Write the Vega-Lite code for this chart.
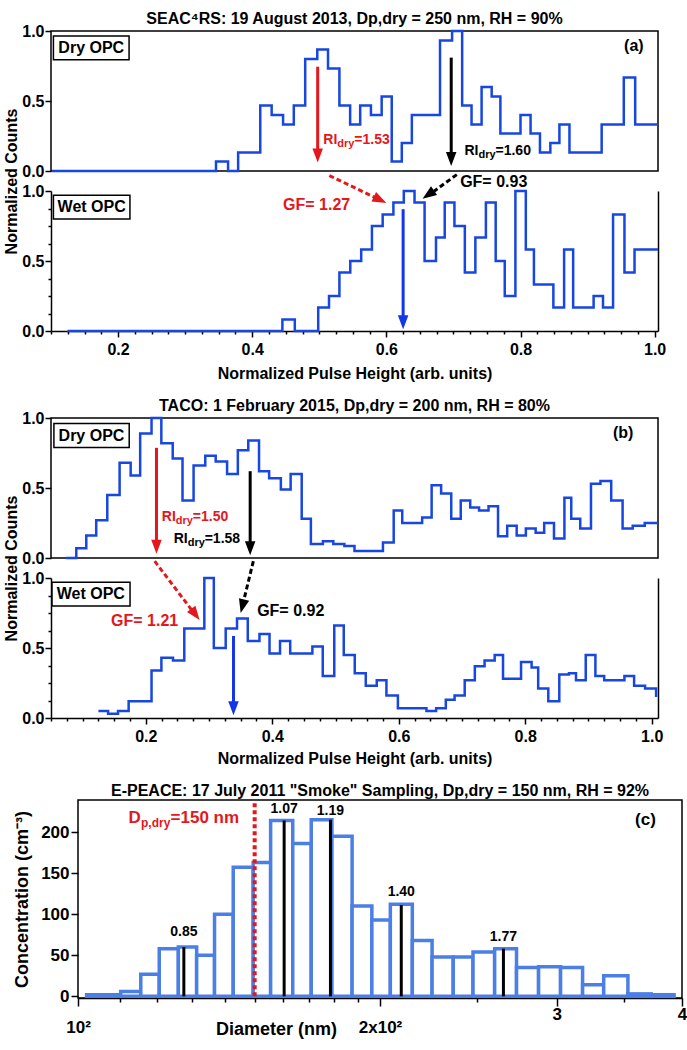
{
  "$schema": "https://vega.github.io/schema/vega-lite/v6.json",
  "padding": {"left": 2, "top": 10, "right": 0, "bottom": 0},
  "spacing": 16,
  "config": {
    "font": "Liberation Sans",
    "view": {"stroke": "black", "strokeWidth": 1.5},
    "title": {"font": "Liberation Sans", "fontSize": 16, "fontWeight": "bold", "color": "black"},
    "axis": {"labelFont": "Liberation Sans", "titleFont": "Liberation Sans", "labelFontSize": 16, "labelFontWeight": "bold", "labelColor": "black", "titleFontSize": 16, "titleFontWeight": "bold", "titleColor": "black", "domainColor": "black", "domainWidth": 1.5, "tickColor": "black", "tickWidth": 1.5, "grid": false, "labelFlush": false, "labelOverlap": false, "labelBound": false},
    "text": {"font": "Liberation Sans"}
  },
  "datasets": {
    "dryA": [{"x":0.1016,"y":0},{"x":0.346,"y":0.067},{"x":0.364,"y":0},{"x":0.379,"y":0.133},{"x":0.412,"y":0.467},{"x":0.429,"y":0.4},{"x":0.446,"y":0.333},{"x":0.462,"y":0.467},{"x":0.479,"y":0.8},{"x":0.497,"y":0.867},{"x":0.513,"y":0.733},{"x":0.53,"y":0.467},{"x":0.546,"y":0.333},{"x":0.561,"y":0.467},{"x":0.577,"y":0.4},{"x":0.593,"y":0.533},{"x":0.608,"y":0.067},{"x":0.623,"y":0.2},{"x":0.638,"y":0.4},{"x":0.68,"y":0.933},{"x":0.698,"y":1},{"x":0.713,"y":0.467},{"x":0.727,"y":0.333},{"x":0.742,"y":0.6},{"x":0.757,"y":0.533},{"x":0.77,"y":0.267},{"x":0.8,"y":0.4},{"x":0.815,"y":0.267},{"x":0.829,"y":0.133},{"x":0.8445,"y":0.2},{"x":0.858,"y":0.333},{"x":0.873,"y":0.133},{"x":0.921,"y":0.333},{"x":0.954,"y":0.667},{"x":0.971,"y":0.333},{"x":1.005,"y":0.333}],
    "wetA": [{"x":0.1246,"y":0},{"x":0.445,"y":0.083},{"x":0.4635,"y":0},{"x":0.4984,"y":0.167},{"x":0.5145,"y":0.25},{"x":0.53,"y":0.417},{"x":0.5462,"y":0.5},{"x":0.5625,"y":0.583},{"x":0.5785,"y":0.75},{"x":0.5945,"y":0.833},{"x":0.6105,"y":0.917},{"x":0.626,"y":1},{"x":0.642,"y":0.917},{"x":0.657,"y":0.5},{"x":0.674,"y":0.667},{"x":0.687,"y":0.917},{"x":0.7015,"y":0.75},{"x":0.717,"y":0.417},{"x":0.7327,"y":0.667},{"x":0.7484,"y":0.917},{"x":0.763,"y":0.5},{"x":0.7765,"y":0.25},{"x":0.7924,"y":1},{"x":0.8079,"y":0.583},{"x":0.82,"y":0.333},{"x":0.849,"y":0.167},{"x":0.865,"y":0.583},{"x":0.8785,"y":0.167},{"x":0.909,"y":0.25},{"x":0.923,"y":0.167},{"x":0.938,"y":0.833},{"x":0.955,"y":0.417},{"x":0.97,"y":0.583},{"x":1.005,"y":0.583}],
    "dryB": [{"x":0.0737,"y":0},{"x":0.09,"y":0.07},{"x":0.1058,"y":0.16},{"x":0.1215,"y":0.27},{"x":0.139,"y":0.45},{"x":0.1585,"y":0.68},{"x":0.176,"y":0.59},{"x":0.191,"y":0.89},{"x":0.209,"y":1},{"x":0.2245,"y":0.82},{"x":0.2425,"y":0.71},{"x":0.258,"y":0.41},{"x":0.2755,"y":0.66},{"x":0.294,"y":0.73},{"x":0.3105,"y":0.69},{"x":0.3285,"y":0.6},{"x":0.3455,"y":0.77},{"x":0.362,"y":0.84},{"x":0.379,"y":0.62},{"x":0.395,"y":0.57},{"x":0.4135,"y":0.49},{"x":0.429,"y":0.6},{"x":0.4465,"y":0.28},{"x":0.461,"y":0.1},{"x":0.48,"y":0.12},{"x":0.4965,"y":0.1},{"x":0.514,"y":0.085},{"x":0.53,"y":0.05},{"x":0.575,"y":0.11},{"x":0.592,"y":0.34},{"x":0.6055,"y":0.25},{"x":0.637,"y":0.29},{"x":0.652,"y":0.52},{"x":0.667,"y":0.46},{"x":0.683,"y":0.28},{"x":0.698,"y":0.41},{"x":0.713,"y":0.36},{"x":0.727,"y":0.34},{"x":0.742,"y":0.37},{"x":0.757,"y":0.155},{"x":0.7715,"y":0.23},{"x":0.7865,"y":0.16},{"x":0.801,"y":0.21},{"x":0.8165,"y":0.18},{"x":0.83,"y":0.25},{"x":0.8455,"y":0.14},{"x":0.862,"y":0.43},{"x":0.8728,"y":0.28},{"x":0.887,"y":0.21},{"x":0.904,"y":0.53},{"x":0.919,"y":0.55},{"x":0.936,"y":0.41},{"x":0.954,"y":0.21},{"x":0.97,"y":0.23},{"x":0.989,"y":0.25},{"x":1.01,"y":0.25}],
    "wetB": [{"x":0.125,"y":0.05},{"x":0.1403,"y":0.03},{"x":0.156,"y":0.05},{"x":0.1728,"y":0.12},{"x":0.209,"y":0.34},{"x":0.2246,"y":0.43},{"x":0.243,"y":0.41},{"x":0.2608,"y":0.64},{"x":0.2925,"y":1},{"x":0.3075,"y":0.5},{"x":0.3263,"y":0.64},{"x":0.3442,"y":0.71},{"x":0.3612,"y":0.55},{"x":0.3797,"y":0.6},{"x":0.3956,"y":0.46},{"x":0.4122,"y":0.55},{"x":0.4283,"y":0.46},{"x":0.4634,"y":0.51},{"x":0.4798,"y":0.3},{"x":0.498,"y":0.66},{"x":0.513,"y":0.45},{"x":0.5304,"y":0.32},{"x":0.5478,"y":0.23},{"x":0.5652,"y":0.27},{"x":0.5805,"y":0.16},{"x":0.5986,"y":0.07},{"x":0.6438,"y":0.05},{"x":0.6591,"y":0.07},{"x":0.6744,"y":0.13},{"x":0.6883,"y":0.16},{"x":0.7043,"y":0.27},{"x":0.7203,"y":0.37},{"x":0.7357,"y":0.41},{"x":0.7517,"y":0.45},{"x":0.7649,"y":0.28},{"x":0.7934,"y":0.4},{"x":0.8101,"y":0.36},{"x":0.8205,"y":0.21},{"x":0.8365,"y":0.12},{"x":0.8539,"y":0.31},{"x":0.8692,"y":0.32},{"x":0.8803,"y":0.27},{"x":0.8957,"y":0.45},{"x":0.911,"y":0.3},{"x":0.9249,"y":0.27},{"x":0.9569,"y":0.3},{"x":0.9722,"y":0.23},{"x":0.9896,"y":0.21},{"x":1.007,"y":0.15}],
    "arrows": [{"p":"dryA","k":"low","x":0.4976,"ytop":0.745,"yend":0.13,"ytip":0.06},{"p":"dryA","k":"high","x":0.6967,"ytop":0.81,"yend":0.1,"ytip":0.035},{"p":"wetA","k":"wet","x":0.625,"ytop":0.87,"yend":0.08,"ytip":0.012},{"p":"dryB","k":"low","x":0.2168,"ytop":0.787,"yend":0.1,"ytip":0.03},{"p":"dryB","k":"high","x":0.365,"ytop":0.62,"yend":0.09,"ytip":0.02},{"p":"wetB","k":"wet","x":0.3386,"ytop":0.586,"yend":0.09,"ytip":0.019}],
    "dashes": [{"p":"wetA","k":"low","x1":0.515,"y1":1.11,"x2":0.589,"y2":0.94,"xt":0.6,"yt":0.915,"ang":-64},{"p":"wetA","k":"high","x1":0.705,"y1":1.117,"x2":0.664,"y2":0.973,"xt":0.654,"yt":0.945,"ang":55},{"p":"wetB","k":"low","x1":0.214,"y1":1.12,"x2":0.277,"y2":0.745,"xt":0.285,"yt":0.7,"ang":-37},{"p":"wetB","k":"high","x1":0.37,"y1":1.12,"x2":0.353,"y2":0.806,"xt":0.35,"yt":0.75,"ang":14}],
    "gf": [{"p":"wetA","k":"low","x":0.446,"y":0.9,"t":"GF= 1.27"},{"p":"wetA","k":"high","x":0.71,"y":1.065,"t":"GF= 0.93"},{"p":"wetB","k":"low","x":0.145,"y":0.69,"t":"GF= 1.21"},{"p":"wetB","k":"high","x":0.376,"y":0.764,"t":"GF= 0.92"}],
    "ri": [{"p":"dryA","k":"low","x":0.506,"y":0.224,"v":"=1.53"},{"p":"dryA","k":"high","x":0.7165,"y":0.146,"v":"=1.60"},{"p":"dryB","k":"low","x":0.2252,"y":0.29,"v":"=1.50"},{"p":"dryB","k":"high","x":0.244,"y":0.133,"v":"=1.58"}],
    "boxes": [{"p":"dryA","x1":0.1036,"x2":0.2164,"y1":0.795,"y2":0.965,"cx":0.16,"cy":0.88,"t":"Dry OPC"},{"p":"wetA","x1":0.1036,"x2":0.2177,"y1":0.8,"y2":0.97,"cx":0.1606,"cy":0.885,"t":"Wet OPC"},{"p":"dryB","x1":0.0546,"x2":0.1737,"y1":0.79,"y2":0.96,"cx":0.114,"cy":0.875,"t":"Dry OPC"},{"p":"wetB","x1":0.0516,"x2":0.175,"y1":0.8,"y2":0.97,"cx":0.113,"cy":0.885,"t":"Wet OPC"}],
    "tags": [{"p":"dryA","x":0.969,"y":0.89,"t":"(a)"},{"p":"dryB","x":0.955,"y":0.89,"t":"(b)"},{"p":"c","x":367.8,"y":215,"t":"(c)"}],
    "bars": [{"lo":102,"hi":110.3,"n":2},{"lo":110.3,"hi":115.5,"n":6},{"lo":115.5,"hi":120.5,"n":27},{"lo":120.5,"hi":125.9,"n":58},{"lo":125.9,"hi":131.3,"n":60},{"lo":131.3,"hi":136.8,"n":50},{"lo":136.8,"hi":142.8,"n":100},{"lo":142.8,"hi":149.5,"n":157},{"lo":149.5,"hi":155.6,"n":163},{"lo":155.6,"hi":163.7,"n":214},{"lo":163.7,"hi":170.8,"n":186},{"lo":170.8,"hi":179.1,"n":215},{"lo":179.1,"hi":187.6,"n":195},{"lo":187.6,"hi":196.3,"n":110},{"lo":196.3,"hi":204.8,"n":93},{"lo":204.8,"hi":215.4,"n":112},{"lo":215.4,"hi":225.4,"n":68},{"lo":225.4,"hi":236.6,"n":48},{"lo":236.6,"hi":247.6,"n":48},{"lo":247.6,"hi":260.2,"n":54},{"lo":260.2,"hi":273.6,"n":58},{"lo":273.6,"hi":287.8,"n":35},{"lo":287.8,"hi":302.7,"n":36},{"lo":302.7,"hi":318.4,"n":35},{"lo":318.4,"hi":334.2,"n":14},{"lo":334.2,"hi":353.3,"n":25},{"lo":353.3,"hi":372.7,"n":3},{"lo":372.7,"hi":392.8,"n":2}],
    "gfc": [{"d":127.5,"h":60,"ty":78,"t":"0.85"},{"d":160.5,"h":214,"ty":228,"t":"1.07"},{"d":178.5,"h":215,"ty":226,"t":"1.19"},{"d":210,"h":111,"ty":127,"t":"1.40"},{"d":265.5,"h":58,"ty":72,"t":"1.77"}],
    "dp": [{"d":150,"y0":0,"y1":239,"lx":112.3,"ly":217}]
  },
  "vconcat": [
    {
      "vconcat": [
        {
          "width": 607, "height": 140,
          "title": {"text": "SEAC⁴RS: 19 August 2013, Dp,dry = 250 nm, RH = 90%", "offset": -4},
          "layer": [
            {"data": {"name": "dryA"}, "mark": {"type": "line", "interpolate": "step-after", "color": "#1846e0", "strokeWidth": 2.5},
             "encoding": {
               "x": {"field": "x", "type": "quantitative", "scale": {"domain": [0.1, 1.005], "nice": false, "zero": false}, "axis": {"labels": false, "ticks": false, "domain": false, "title": null}},
               "y": {"field": "y", "type": "quantitative", "scale": {"domain": [0, 1], "nice": false}, "axis": {"values": [0,0.125,0.25,0.375,0.5,0.625,0.75,0.875,1], "labelExpr": "datum.value % 0.5 == 0 ? format(datum.value, '.1f') : ''", "tickSize": {"condition": {"test": "datum.value % 0.5 == 0", "value": 6}, "value": 3}, "labelPadding": 1, "domain": false, "title": "Normalized Counts", "titleX": -32, "titleY": 150, "titleAlign": "center", "titleBaseline": "bottom", "titleAngle": -90}}
             }},
            {"data": {"name": "boxes"}, "transform": [{"filter": "datum.p == 'dryA'"}], "mark": {"type": "rect", "fill": "white", "stroke": "black", "strokeWidth": 1.5},
             "encoding": {"x": {"field": "x1", "type": "quantitative"}, "x2": {"field": "x2"}, "y": {"field": "y1", "type": "quantitative"}, "y2": {"field": "y2"}}},
            {"data": {"name": "boxes"}, "transform": [{"filter": "datum.p == 'dryA'"}], "mark": {"type": "text", "fontSize": 16, "fontWeight": "bold", "baseline": "middle", "align": "center"},
             "encoding": {"x": {"field": "cx", "type": "quantitative"}, "y": {"field": "cy", "type": "quantitative"}, "text": {"field": "t"}}},
            {"data": {"name": "arrows"}, "transform": [{"filter": "datum.p == 'dryA'"}], "mark": {"type": "rule", "strokeWidth": 3},
             "encoding": {"x": {"field": "x", "type": "quantitative"}, "y": {"field": "ytop", "type": "quantitative"}, "y2": {"field": "yend"}, "color": {"field": "k", "type": "nominal", "scale": {"domain": ["low", "high", "wet"], "range": ["#e3171c", "#000000", "#1236e8"]}, "legend": null}}},
            {"data": {"name": "arrows"}, "transform": [{"filter": "datum.p == 'dryA'"}], "mark": {"type": "point", "shape": "M-0.75,-2L0.75,-2L0,0Z", "filled": true, "size": 196, "opacity": 1, "strokeWidth": 0},
             "encoding": {"x": {"field": "x", "type": "quantitative"}, "y": {"field": "ytip", "type": "quantitative"}, "color": {"field": "k", "type": "nominal", "scale": {"domain": ["low", "high", "wet"], "range": ["#e3171c", "#000000", "#1236e8"]}, "legend": null}}},
            {"data": {"name": "ri"}, "transform": [{"filter": "datum.p == 'dryA'"}], "mark": {"type": "text", "text": "RI", "align": "left", "baseline": "middle", "fontSize": 14, "fontWeight": "bold"},
             "encoding": {"x": {"field": "x", "type": "quantitative"}, "y": {"field": "y", "type": "quantitative"}, "color": {"field": "k", "type": "nominal", "scale": {"domain": ["low", "high", "wet"], "range": ["#e3171c", "#000000", "#1236e8"]}, "legend": null}}},
            {"data": {"name": "ri"}, "transform": [{"filter": "datum.p == 'dryA'"}], "mark": {"type": "text", "text": "dry", "align": "left", "baseline": "middle", "fontSize": 11, "fontWeight": "bold", "dx": 14, "dy": 4},
             "encoding": {"x": {"field": "x", "type": "quantitative"}, "y": {"field": "y", "type": "quantitative"}, "color": {"field": "k", "type": "nominal", "scale": {"domain": ["low", "high", "wet"], "range": ["#e3171c", "#000000", "#1236e8"]}, "legend": null}}},
            {"data": {"name": "ri"}, "transform": [{"filter": "datum.p == 'dryA'"}], "mark": {"type": "text", "align": "left", "baseline": "middle", "fontSize": 14, "fontWeight": "bold", "dx": 31},
             "encoding": {"x": {"field": "x", "type": "quantitative"}, "y": {"field": "y", "type": "quantitative"}, "text": {"field": "v"}, "color": {"field": "k", "type": "nominal", "scale": {"domain": ["low", "high", "wet"], "range": ["#e3171c", "#000000", "#1236e8"]}, "legend": null}}},
            {"data": {"name": "tags"}, "transform": [{"filter": "datum.p == 'dryA'"}], "mark": {"type": "text", "align": "center", "baseline": "middle", "fontSize": 16, "fontWeight": "bold"},
             "encoding": {"x": {"field": "x", "type": "quantitative"}, "y": {"field": "y", "type": "quantitative"}, "text": {"field": "t"}}}
          ]
        },
        {
          "width": 607, "height": 140,
          "view": {"stroke": null},
          "resolve": {"axis": {"x": "independent", "y": "independent"}},
          "layer": [
            {"data": {"name": "wetA"}, "mark": {"type": "line", "interpolate": "step-after", "color": "#1846e0", "strokeWidth": 2.5},
             "encoding": {
               "x": {"field": "x", "type": "quantitative", "scale": {"domain": [0.1, 1.005], "nice": false, "zero": false}, "axis": {"orient": "bottom", "values": [0.2, 0.4, 0.6, 0.8, 1.0], "format": ".1f", "tickSize": 6, "labelPadding": 4, "title": "Normalized Pulse Height (arb. units)", "titlePadding": 8}},
               "y": {"field": "y", "type": "quantitative", "scale": {"domain": [0, 1], "nice": false}, "axis": {"values": [0,0.125,0.25,0.375,0.5,0.625,0.75,0.875,1], "labelExpr": "datum.value % 0.5 == 0 ? format(datum.value, '.1f') : ''", "tickSize": {"condition": {"test": "datum.value % 0.5 == 0", "value": 6}, "value": 3}, "labelPadding": 1, "title": null}}
             }},
            {"data": {"name": "boxes"}, "transform": [{"filter": "datum.p == 'wetA'"}], "mark": {"type": "rect", "fill": "white", "stroke": "black", "strokeWidth": 1.5},
             "encoding": {"x": {"field": "x1", "type": "quantitative", "axis": {"orient": "bottom", "values": [0.1,0.125,0.15,0.175,0.225,0.25,0.275,0.3,0.325,0.35,0.375,0.425,0.45,0.475,0.5,0.525,0.55,0.575,0.625,0.65,0.675,0.7,0.725,0.75,0.775,0.825,0.85,0.875,0.9,0.925,0.95,0.975], "labels": false, "tickSize": 3, "domain": false, "title": null}}, "x2": {"field": "x2"}, "y": {"field": "y1", "type": "quantitative", "axis": {"orient": "right", "labels": false, "ticks": false, "title": null, "domain": true}}, "y2": {"field": "y2"}}},
            {"data": {"name": "boxes"}, "transform": [{"filter": "datum.p == 'wetA'"}], "mark": {"type": "text", "fontSize": 16, "fontWeight": "bold", "baseline": "middle", "align": "center"},
             "encoding": {"x": {"field": "cx", "type": "quantitative", "axis": null}, "y": {"field": "cy", "type": "quantitative", "axis": null}, "text": {"field": "t"}}},
            {"data": {"name": "arrows"}, "transform": [{"filter": "datum.p == 'wetA'"}], "mark": {"type": "rule", "strokeWidth": 3},
             "encoding": {"x": {"field": "x", "type": "quantitative", "axis": null}, "y": {"field": "ytop", "type": "quantitative", "axis": null}, "y2": {"field": "yend"}, "color": {"field": "k", "type": "nominal", "scale": {"domain": ["low", "high", "wet"], "range": ["#e3171c", "#000000", "#1236e8"]}, "legend": null}}},
            {"data": {"name": "arrows"}, "transform": [{"filter": "datum.p == 'wetA'"}], "mark": {"type": "point", "shape": "M-0.75,-2L0.75,-2L0,0Z", "filled": true, "size": 196, "opacity": 1, "strokeWidth": 0},
             "encoding": {"x": {"field": "x", "type": "quantitative", "axis": null}, "y": {"field": "ytip", "type": "quantitative", "axis": null}, "color": {"field": "k", "type": "nominal", "scale": {"domain": ["low", "high", "wet"], "range": ["#e3171c", "#000000", "#1236e8"]}, "legend": null}}},
            {"data": {"name": "dashes"}, "transform": [{"filter": "datum.p == 'wetA'"}], "mark": {"type": "rule", "strokeWidth": 3, "strokeDash": [5, 3]},
             "encoding": {"x": {"field": "x1", "type": "quantitative", "axis": null}, "y": {"field": "y1", "type": "quantitative", "axis": null}, "x2": {"field": "x2"}, "y2": {"field": "y2"}, "color": {"field": "k", "type": "nominal", "scale": {"domain": ["low", "high", "wet"], "range": ["#e3171c", "#000000", "#1236e8"]}, "legend": null}}},
            {"data": {"name": "dashes"}, "transform": [{"filter": "datum.p == 'wetA'"}], "mark": {"type": "point", "shape": "M-0.75,-2L0.75,-2L0,0Z", "filled": true, "size": 196, "opacity": 1, "strokeWidth": 0},
             "encoding": {"x": {"field": "xt", "type": "quantitative", "axis": null}, "y": {"field": "yt", "type": "quantitative", "axis": null}, "angle": {"field": "ang", "type": "quantitative", "scale": null}, "color": {"field": "k", "type": "nominal", "scale": {"domain": ["low", "high", "wet"], "range": ["#e3171c", "#000000", "#1236e8"]}, "legend": null}}},
            {"data": {"name": "gf"}, "transform": [{"filter": "datum.p == 'wetA'"}], "mark": {"type": "text", "align": "left", "baseline": "middle", "fontSize": 16, "fontWeight": "bold"},
             "encoding": {"x": {"field": "x", "type": "quantitative", "axis": null}, "y": {"field": "y", "type": "quantitative", "axis": null}, "text": {"field": "t"}, "color": {"field": "k", "type": "nominal", "scale": {"domain": ["low", "high", "wet"], "range": ["#e3171c", "#000000", "#1236e8"]}, "legend": null}}}
          ]
        }
      ],
      "bounds": "flush",
      "spacing": 20
    },
    {
      "vconcat": [
        {
          "width": 607, "height": 140,
          "title": {"text": "TACO: 1 February 2015, Dp,dry = 200 nm, RH = 80%", "offset": -4},
          "layer": [
            {"data": {"name": "dryB"}, "mark": {"type": "line", "interpolate": "step-after", "color": "#1846e0", "strokeWidth": 2.5},
             "encoding": {
               "x": {"field": "x", "type": "quantitative", "scale": {"domain": [0.05, 1.01], "nice": false, "zero": false}, "axis": {"labels": false, "ticks": false, "domain": false, "title": null}},
               "y": {"field": "y", "type": "quantitative", "scale": {"domain": [0, 1], "nice": false}, "axis": {"values": [0,0.125,0.25,0.375,0.5,0.625,0.75,0.875,1], "labelExpr": "datum.value % 0.5 == 0 ? format(datum.value, '.1f') : ''", "tickSize": {"condition": {"test": "datum.value % 0.5 == 0", "value": 6}, "value": 3}, "labelPadding": 1, "domain": false, "title": "Normalized Counts", "titleX": -32, "titleY": 150, "titleAlign": "center", "titleBaseline": "bottom", "titleAngle": -90}}
             }},
            {"data": {"name": "boxes"}, "transform": [{"filter": "datum.p == 'dryB'"}], "mark": {"type": "rect", "fill": "white", "stroke": "black", "strokeWidth": 1.5},
             "encoding": {"x": {"field": "x1", "type": "quantitative"}, "x2": {"field": "x2"}, "y": {"field": "y1", "type": "quantitative"}, "y2": {"field": "y2"}}},
            {"data": {"name": "boxes"}, "transform": [{"filter": "datum.p == 'dryB'"}], "mark": {"type": "text", "fontSize": 16, "fontWeight": "bold", "baseline": "middle", "align": "center"},
             "encoding": {"x": {"field": "cx", "type": "quantitative"}, "y": {"field": "cy", "type": "quantitative"}, "text": {"field": "t"}}},
            {"data": {"name": "arrows"}, "transform": [{"filter": "datum.p == 'dryB'"}], "mark": {"type": "rule", "strokeWidth": 3},
             "encoding": {"x": {"field": "x", "type": "quantitative"}, "y": {"field": "ytop", "type": "quantitative"}, "y2": {"field": "yend"}, "color": {"field": "k", "type": "nominal", "scale": {"domain": ["low", "high", "wet"], "range": ["#e3171c", "#000000", "#1236e8"]}, "legend": null}}},
            {"data": {"name": "arrows"}, "transform": [{"filter": "datum.p == 'dryB'"}], "mark": {"type": "point", "shape": "M-0.75,-2L0.75,-2L0,0Z", "filled": true, "size": 196, "opacity": 1, "strokeWidth": 0},
             "encoding": {"x": {"field": "x", "type": "quantitative"}, "y": {"field": "ytip", "type": "quantitative"}, "color": {"field": "k", "type": "nominal", "scale": {"domain": ["low", "high", "wet"], "range": ["#e3171c", "#000000", "#1236e8"]}, "legend": null}}},
            {"data": {"name": "ri"}, "transform": [{"filter": "datum.p == 'dryB'"}], "mark": {"type": "text", "text": "RI", "align": "left", "baseline": "middle", "fontSize": 14, "fontWeight": "bold"},
             "encoding": {"x": {"field": "x", "type": "quantitative"}, "y": {"field": "y", "type": "quantitative"}, "color": {"field": "k", "type": "nominal", "scale": {"domain": ["low", "high", "wet"], "range": ["#e3171c", "#000000", "#1236e8"]}, "legend": null}}},
            {"data": {"name": "ri"}, "transform": [{"filter": "datum.p == 'dryB'"}], "mark": {"type": "text", "text": "dry", "align": "left", "baseline": "middle", "fontSize": 11, "fontWeight": "bold", "dx": 14, "dy": 4},
             "encoding": {"x": {"field": "x", "type": "quantitative"}, "y": {"field": "y", "type": "quantitative"}, "color": {"field": "k", "type": "nominal", "scale": {"domain": ["low", "high", "wet"], "range": ["#e3171c", "#000000", "#1236e8"]}, "legend": null}}},
            {"data": {"name": "ri"}, "transform": [{"filter": "datum.p == 'dryB'"}], "mark": {"type": "text", "align": "left", "baseline": "middle", "fontSize": 14, "fontWeight": "bold", "dx": 31},
             "encoding": {"x": {"field": "x", "type": "quantitative"}, "y": {"field": "y", "type": "quantitative"}, "text": {"field": "v"}, "color": {"field": "k", "type": "nominal", "scale": {"domain": ["low", "high", "wet"], "range": ["#e3171c", "#000000", "#1236e8"]}, "legend": null}}},
            {"data": {"name": "tags"}, "transform": [{"filter": "datum.p == 'dryB'"}], "mark": {"type": "text", "align": "center", "baseline": "middle", "fontSize": 16, "fontWeight": "bold"},
             "encoding": {"x": {"field": "x", "type": "quantitative"}, "y": {"field": "y", "type": "quantitative"}, "text": {"field": "t"}}}
          ]
        },
        {
          "width": 607, "height": 140,
          "view": {"stroke": null},
          "resolve": {"axis": {"x": "independent", "y": "independent"}},
          "layer": [
            {"data": {"name": "wetB"}, "mark": {"type": "line", "interpolate": "step-after", "color": "#1846e0", "strokeWidth": 2.5},
             "encoding": {
               "x": {"field": "x", "type": "quantitative", "scale": {"domain": [0.05, 1.01], "nice": false, "zero": false}, "axis": {"orient": "bottom", "values": [0.2, 0.4, 0.6, 0.8, 1.0], "format": ".1f", "tickSize": 6, "labelPadding": 4, "title": "Normalized Pulse Height (arb. units)", "titlePadding": 6}},
               "y": {"field": "y", "type": "quantitative", "scale": {"domain": [0, 1], "nice": false}, "axis": {"values": [0,0.125,0.25,0.375,0.5,0.625,0.75,0.875,1], "labelExpr": "datum.value % 0.5 == 0 ? format(datum.value, '.1f') : ''", "tickSize": {"condition": {"test": "datum.value % 0.5 == 0", "value": 6}, "value": 3}, "labelPadding": 1, "title": null}}
             }},
            {"data": {"name": "boxes"}, "transform": [{"filter": "datum.p == 'wetB'"}], "mark": {"type": "rect", "fill": "white", "stroke": "black", "strokeWidth": 1.5},
             "encoding": {"x": {"field": "x1", "type": "quantitative", "axis": {"orient": "bottom", "values": [0.05,0.075,0.1,0.125,0.15,0.175,0.225,0.25,0.275,0.3,0.325,0.35,0.375,0.425,0.45,0.475,0.5,0.525,0.55,0.575,0.625,0.65,0.675,0.7,0.725,0.75,0.775,0.825,0.85,0.875,0.9,0.925,0.95,0.975], "labels": false, "tickSize": 3, "domain": false, "title": null}}, "x2": {"field": "x2"}, "y": {"field": "y1", "type": "quantitative", "axis": {"orient": "right", "labels": false, "ticks": false, "title": null, "domain": true}}, "y2": {"field": "y2"}}},
            {"data": {"name": "boxes"}, "transform": [{"filter": "datum.p == 'wetB'"}], "mark": {"type": "text", "fontSize": 16, "fontWeight": "bold", "baseline": "middle", "align": "center"},
             "encoding": {"x": {"field": "cx", "type": "quantitative", "axis": null}, "y": {"field": "cy", "type": "quantitative", "axis": null}, "text": {"field": "t"}}},
            {"data": {"name": "arrows"}, "transform": [{"filter": "datum.p == 'wetB'"}], "mark": {"type": "rule", "strokeWidth": 3},
             "encoding": {"x": {"field": "x", "type": "quantitative", "axis": null}, "y": {"field": "ytop", "type": "quantitative", "axis": null}, "y2": {"field": "yend"}, "color": {"field": "k", "type": "nominal", "scale": {"domain": ["low", "high", "wet"], "range": ["#e3171c", "#000000", "#1236e8"]}, "legend": null}}},
            {"data": {"name": "arrows"}, "transform": [{"filter": "datum.p == 'wetB'"}], "mark": {"type": "point", "shape": "M-0.75,-2L0.75,-2L0,0Z", "filled": true, "size": 196, "opacity": 1, "strokeWidth": 0},
             "encoding": {"x": {"field": "x", "type": "quantitative", "axis": null}, "y": {"field": "ytip", "type": "quantitative", "axis": null}, "color": {"field": "k", "type": "nominal", "scale": {"domain": ["low", "high", "wet"], "range": ["#e3171c", "#000000", "#1236e8"]}, "legend": null}}},
            {"data": {"name": "dashes"}, "transform": [{"filter": "datum.p == 'wetB'"}], "mark": {"type": "rule", "strokeWidth": 3, "strokeDash": [5, 3]},
             "encoding": {"x": {"field": "x1", "type": "quantitative", "axis": null}, "y": {"field": "y1", "type": "quantitative", "axis": null}, "x2": {"field": "x2"}, "y2": {"field": "y2"}, "color": {"field": "k", "type": "nominal", "scale": {"domain": ["low", "high", "wet"], "range": ["#e3171c", "#000000", "#1236e8"]}, "legend": null}}},
            {"data": {"name": "dashes"}, "transform": [{"filter": "datum.p == 'wetB'"}], "mark": {"type": "point", "shape": "M-0.75,-2L0.75,-2L0,0Z", "filled": true, "size": 196, "opacity": 1, "strokeWidth": 0},
             "encoding": {"x": {"field": "xt", "type": "quantitative", "axis": null}, "y": {"field": "yt", "type": "quantitative", "axis": null}, "angle": {"field": "ang", "type": "quantitative", "scale": null}, "color": {"field": "k", "type": "nominal", "scale": {"domain": ["low", "high", "wet"], "range": ["#e3171c", "#000000", "#1236e8"]}, "legend": null}}},
            {"data": {"name": "gf"}, "transform": [{"filter": "datum.p == 'wetB'"}], "mark": {"type": "text", "align": "left", "baseline": "middle", "fontSize": 16, "fontWeight": "bold"},
             "encoding": {"x": {"field": "x", "type": "quantitative", "axis": null}, "y": {"field": "y", "type": "quantitative", "axis": null}, "text": {"field": "t"}, "color": {"field": "k", "type": "nominal", "scale": {"domain": ["low", "high", "wet"], "range": ["#e3171c", "#000000", "#1236e8"]}, "legend": null}}}
          ]
        }
      ],
      "bounds": "flush",
      "spacing": 20
    },
    {
      "hconcat": [
        {"width": 27, "height": 198, "view": {"stroke": null}, "data": {"values": [{}]}, "mark": {"type": "point", "opacity": 0}},
        {
          "width": 604, "height": 198,
          "title": {"text": "E-PEACE: 17 July 2011 \"Smoke\" Sampling, Dp,dry = 150 nm, RH = 92%", "offset": -1},
          "layer": [
            {"data": {"name": "bars"}, "mark": {"type": "rect", "fill": "white", "stroke": "#4b7fe5", "strokeWidth": 3.5},
             "encoding": {
               "x": {"field": "lo", "type": "quantitative", "scale": {"type": "log", "domain": [100, 400], "nice": false}, "axis": {"values": [100,110,120,130,140,150,160,170,180,190,200,250,300,350,400], "labelExpr": "datum.value == 100 ? '10²' : datum.value == 200 ? '2x10²' : datum.value == 300 ? '3' : datum.value == 400 ? '4' : ''", "tickSize": {"condition": {"test": "datum.value % 100 == 0", "value": 8}, "value": 4}, "labelPadding": {"condition": {"test": "datum.value <= 200", "value": 13}, "value": 0}, "labelFontSize": 17, "title": "Diameter (nm)", "titleFontSize": 18, "titleX": 198, "titleY": 22, "titleBaseline": "top", "titleAlign": "center"}},
               "x2": {"field": "hi"},
               "y": {"field": "n", "type": "quantitative", "scale": {"domain": [-2, 239], "nice": false, "zero": false}, "axis": {"values": [0, 50, 100, 150, 200], "tickSize": 7, "labelPadding": 2, "labelFontSize": 17, "domain": false, "title": "Concentration (cm⁻³)", "titleFontSize": 18, "titleX": -47, "titleY": 99, "titleAlign": "center", "titleBaseline": "bottom", "titleAngle": -90}},
               "y2": {"datum": 0}
             }},
            {"data": {"name": "gfc"}, "mark": {"type": "rule", "strokeWidth": 3, "color": "black"},
             "encoding": {"x": {"field": "d", "type": "quantitative"}, "y": {"field": "h", "type": "quantitative"}, "y2": {"datum": 0}}},
            {"data": {"name": "gfc"}, "mark": {"type": "text", "fontSize": 14, "fontWeight": "bold", "baseline": "middle", "align": "center"},
             "encoding": {"x": {"field": "d", "type": "quantitative"}, "y": {"field": "ty", "type": "quantitative"}, "text": {"field": "t"}}},
            {"data": {"name": "dp"}, "mark": {"type": "rule", "strokeWidth": 4, "strokeDash": [4, 3], "color": "#e3171c"},
             "encoding": {"x": {"field": "d", "type": "quantitative"}, "y": {"field": "y0", "type": "quantitative"}, "y2": {"field": "y1"}}},
            {"data": {"name": "dp"}, "mark": {"type": "text", "text": "D", "align": "left", "baseline": "middle", "fontSize": 17, "fontWeight": "bold", "color": "#e3171c"},
             "encoding": {"x": {"field": "lx", "type": "quantitative"}, "y": {"field": "ly", "type": "quantitative"}}},
            {"data": {"name": "dp"}, "mark": {"type": "text", "text": "p,dry", "align": "left", "baseline": "middle", "fontSize": 12, "fontWeight": "bold", "color": "#e3171c", "dx": 12.5, "dy": 5},
             "encoding": {"x": {"field": "lx", "type": "quantitative"}, "y": {"field": "ly", "type": "quantitative"}}},
            {"data": {"name": "dp"}, "mark": {"type": "text", "text": "=150 nm", "align": "left", "baseline": "middle", "fontSize": 17, "fontWeight": "bold", "color": "#e3171c", "dx": 42},
             "encoding": {"x": {"field": "lx", "type": "quantitative"}, "y": {"field": "ly", "type": "quantitative"}}},
            {"data": {"name": "tags"}, "transform": [{"filter": "datum.p == 'c'"}], "mark": {"type": "text", "align": "center", "baseline": "middle", "fontSize": 17, "fontWeight": "bold"},
             "encoding": {"x": {"field": "x", "type": "quantitative"}, "y": {"field": "y", "type": "quantitative"}, "text": {"field": "t"}}}
          ]
        }
      ],
      "bounds": "flush",
      "spacing": 0
    }
  ]
}
